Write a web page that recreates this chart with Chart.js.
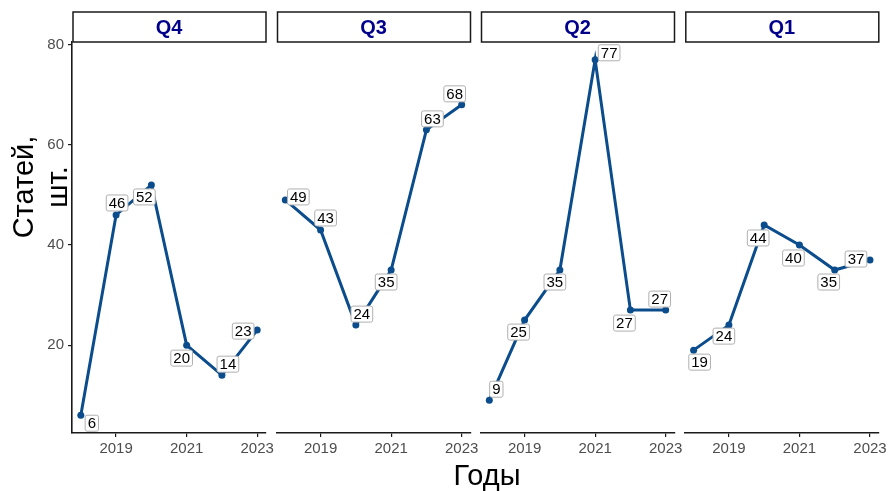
<!DOCTYPE html>
<html>
<head>
<meta charset="utf-8">
<script src="https://cdn.jsdelivr.net/npm/chart.js@4.4.1/dist/chart.umd.min.js"></script>
<style>
    body { margin: 0; background: #fff; }
    #wrap { position: relative; width: 891px; height: 491px; }
    #wrap canvas { position: absolute; left: 0; top: 0; }
</style>
</head>
<body>
<div id="wrap">
    <canvas id="Q4" width="891" height="491"></canvas>
    <canvas id="Q3" width="891" height="491"></canvas>
    <canvas id="Q2" width="891" height="491"></canvas>
    <canvas id="Q1" width="891" height="491"></canvas>
</div>
<script>
const years = [2018, 2019, 2020, 2021, 2022, 2023];
const yearTicks = [2019, 2021, 2023];
const countTicks = [20, 40, 60, 80];

const q4Values = [6, 46, 52, 20, 14, 23];
const q3Values = [49, 43, 24, 35, 63, 68];
const q2Values = [9, 25, 35, 77, 27, 27];
const q1Values = [19, 24, 44, 40, 35, 37];

// label nudges in px (like ggrepel placed them)
const q4Nudges = [[11, 8], [1, -12], [-7, 12], [-5, 13], [6, -11], [-14, 1]];
const q3Nudges = [[13, -3], [5, -12], [6, -11], [-5, 12], [6, -11], [-7, -11]];
const q2Nudges = [[7, -11], [-6, 12], [-5, 12], [14, -7], [-6, 13], [-6, -11]];
const q1Nudges = [[6, 12], [-5, 11], [-6, 13], [-6, 13], [-6, 12], [-14, -1]];

const FONT = '"Liberation Sans", Arial, sans-serif';
const LINE_COLOR = "rgb(10,76,140)";
const panelLeft = [72, 276.5, 480.5, 684.8];
const panelWidth = 194;

const panelDecor = {
    id: "panelDecor",
    afterDatasetsDraw(chart, args, opts) {
        const ctx = chart.ctx;
        const meta = chart.getDatasetMeta(0);
        ctx.save();
        // value labels
        ctx.font = "15px " + FONT;
        ctx.textAlign = "center";
        ctx.textBaseline = "middle";
        meta.data.forEach((pt, i) => {
            const txt = String(opts.values[i]);
            const cx = pt.x + opts.nudges[i][0];
            const cy = pt.y + opts.nudges[i][1];
            const w = ctx.measureText(txt).width + 5;
            const h = 16;
            ctx.beginPath();
            ctx.roundRect(cx - w / 2, cy - h / 2, w, h, 2);
            ctx.fillStyle = "#fff";
            ctx.fill();
            ctx.strokeStyle = "#b0b0b0";
            ctx.lineWidth = 1;
            ctx.stroke();
            ctx.fillStyle = "#000";
            ctx.fillText(txt, cx, cy + 1);
        });
        // facet strip
        const a = chart.chartArea;
        ctx.fillStyle = "#fff";
        ctx.fillRect(a.left + 1, 12, a.width - 1, 30);
        ctx.strokeStyle = "#1a1a1a";
        ctx.lineWidth = 1.5;
        ctx.strokeRect(a.left + 1, 12, a.width - 1, 30);
        ctx.font = "bold 20px " + FONT;
        ctx.fillStyle = "#00008b";
        ctx.textBaseline = "alphabetic";
        ctx.fillText(opts.title, (a.left + a.right) / 2, 34);
        ctx.restore();
    },
};

const axisTitles = {
    id: "axisTitles",
    afterDraw(chart) {
        const ctx = chart.ctx;
        ctx.save();
        ctx.fillStyle = "#000";
        ctx.font = "29px " + FONT;
        ctx.textAlign = "center";
        ctx.textBaseline = "alphabetic";
        ctx.fillText("Годы", 487, 485);
        ctx.translate(0, 187);
        ctx.rotate(-Math.PI / 2);
        ctx.fillText("Статей,", 0, 33);
        ctx.fillText("шт.", 0, 67);
        ctx.restore();
    },
};

function QuarterChart(id, index, values, nudges) {
    const ctx = document.getElementById(id);
    const first = index === 0;
    const left = panelLeft[index];

    new Chart(ctx, {
        type: "line",
        data: {
            datasets: [
                {
                    data: years.map((y, i) => ({ x: y, y: values[i] })),
                    borderColor: LINE_COLOR,
                    backgroundColor: LINE_COLOR,
                    borderWidth: 3,
                    pointRadius: 3.5,
                    pointBorderWidth: 0,
                    tension: 0,
                },
            ],
        },
        options: {
            responsive: false,
            animation: false,
            events: [],
            layout: {
                padding: {
                    left: first ? 0 : left,
                    right: 891 - left - panelWidth,
                    top: 42,
                    bottom: 28,
                },
            },
            scales: {
                x: {
                    type: "linear",
                    min: 2017.75,
                    max: 2023.25,
                    afterBuildTicks: (s) => { s.ticks = yearTicks.map((v) => ({ value: v })); },
                    afterFit: (s) => { s.height = 30; },
                    ticks: {
                        color: "#4d4d4d",
                        font: { family: FONT, size: 15 },
                        padding: 3,
                        maxRotation: 0,
                        callback: (v) => String(v),
                    },
                    grid: {
                        drawOnChartArea: false,
                        color: "#1a1a1a",
                        lineWidth: 1.2,
                        tickLength: 4,
                    },
                    border: { display: true, color: "#1a1a1a", width: 1.6 },
                },
                y: {
                    display: first,
                    min: 2.45,
                    max: 80.55,
                    afterBuildTicks: (s) => { s.ticks = countTicks.map((v) => ({ value: v })); },
                    afterFit: (s) => { s.width = first ? 72 : 0; },
                    ticks: {
                        color: "#4d4d4d",
                        font: { family: FONT, size: 15 },
                        padding: 4,
                    },
                    grid: {
                        drawOnChartArea: false,
                        color: "#1a1a1a",
                        lineWidth: 1.2,
                        tickLength: 4,
                    },
                    border: { display: true, color: "#1a1a1a", width: 1.6 },
                },
            },
            plugins: {
                legend: { display: false },
                tooltip: { enabled: false },
                panelDecor: { title: id, values: values, nudges: nudges },
            },
        },
        plugins: first ? [panelDecor, axisTitles] : [panelDecor],
    });
}

QuarterChart("Q4", 0, q4Values, q4Nudges);
QuarterChart("Q3", 1, q3Values, q3Nudges);
QuarterChart("Q2", 2, q2Values, q2Nudges);
QuarterChart("Q1", 3, q1Values, q1Nudges);
</script>
</body>
</html>
